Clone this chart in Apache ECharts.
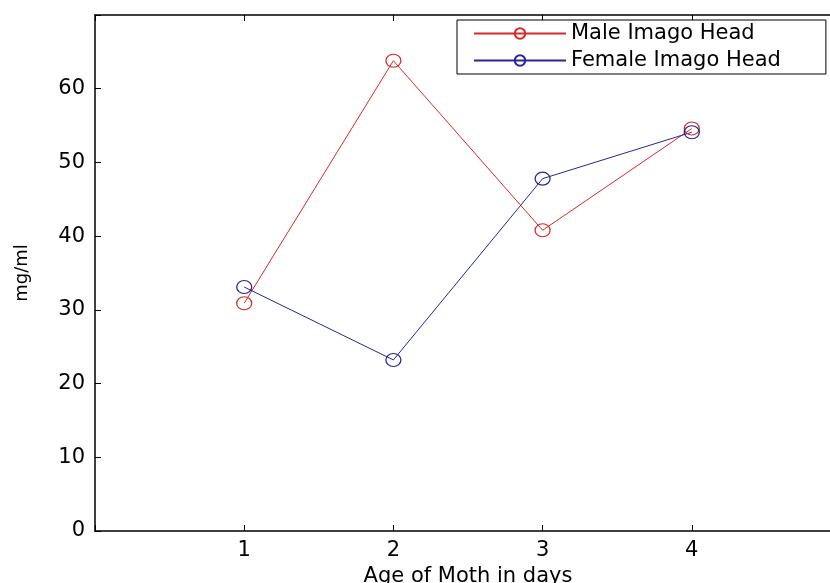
<!DOCTYPE html>
<html>
<head>
<meta charset="utf-8">
<script src="https://cdn.jsdelivr.net/npm/echarts@6/dist/echarts.min.js"></script>
<style>
html,body{margin:0;padding:0;background:#fff;overflow:hidden;}
#chart{width:830px;height:583px;}
</style>
</head>
<body>
<div id="chart"></div>
<script>
const days = [1, 2, 3, 4];
const maleHead = [30.9, 63.8, 40.8, 54.6];
const femaleHead = [33.1, 23.2, 47.8, 54.1];
const seriesNames = ['Male Imago Head', 'Female Imago Head'];
const xTitle = 'Age of Moth in days';
const yTitle = 'mg/ml';

const FONT = 'DejaVu Sans';
const chart = echarts.init(document.getElementById('chart'), null, {renderer: 'canvas'});

function pairs(xs, ys) { return xs.map((x, i) => [x, ys[i]]); }

const axisLineStyle = {color: '#000', width: 1.5};
const option = {
  backgroundColor: '#fff',
  animation: false,
  grid: {left: 95, top: 15, width: 746, height: 516, containLabel: false, outerBoundsMode: 'none'},
  legend: {
    left: 457, top: 20, orient: 'vertical',
    backgroundColor: '#fff', borderColor: '#000', borderWidth: 1,
    padding: [3, 45, 3, 16], itemGap: 6, itemWidth: 92, itemHeight: 13,
    textStyle: {fontFamily: FONT, fontSize: 21, color: '#000'},
    data: seriesNames
  },
  xAxis: [{
    type: 'value', min: 0, max: 5, interval: 1, position: 'bottom',
    name: xTitle, nameLocation: 'middle', nameGap: 33,
    nameTextStyle: {fontFamily: FONT, fontSize: 21, color: '#000'},
    axisLine: {lineStyle: axisLineStyle},
    axisTick: {inside: true, length: 6, lineStyle: {color: '#000'}},
    axisLabel: {fontFamily: FONT, fontSize: 21, color: '#000', margin: 9,
      formatter: v => (v >= 1 && v <= 4) ? String(v) : ''},
    splitLine: {show: false}
  }, {
    type: 'value', min: 0, max: 5, interval: 1, position: 'top',
    axisLine: {show: true, onZero: false, lineStyle: axisLineStyle},
    axisTick: {inside: true, length: 6, lineStyle: {color: '#000'}},
    axisLabel: {show: false}, splitLine: {show: false}
  }],
  yAxis: [{
    type: 'value', min: 0, max: 70, interval: 10, position: 'left',
    name: yTitle, nameLocation: 'middle', nameGap: 64, nameRotate: 90,
    nameTextStyle: {fontFamily: FONT, fontSize: 18, color: '#000'},
    axisLine: {show: true, onZero: false, lineStyle: axisLineStyle},
    axisTick: {show: true, inside: true, length: 6, lineStyle: {color: '#000'}},
    axisLabel: {fontFamily: FONT, fontSize: 21, color: '#000', margin: 10,
      formatter: v => v <= 60 ? String(v) : ''},
    splitLine: {show: false}
  }],
  series: [{
    name: seriesNames[0], type: 'line', data: pairs(days, maleHead),
    symbol: 'circle', symbolSize: [15, 13],
    lineStyle: {color: '#d42a2a', width: 1},
    itemStyle: {color: 'rgba(0,0,0,0)', borderColor: '#d42a2a', borderWidth: 1.2}
  }, {
    name: seriesNames[1], type: 'line', data: pairs(days, femaleHead),
    symbol: 'circle', symbolSize: [15, 13],
    lineStyle: {color: '#26269a', width: 1},
    itemStyle: {color: 'rgba(0,0,0,0)', borderColor: '#26269a', borderWidth: 1.2}
  }]
};
chart.setOption(option);
</script>
</body>
</html>
